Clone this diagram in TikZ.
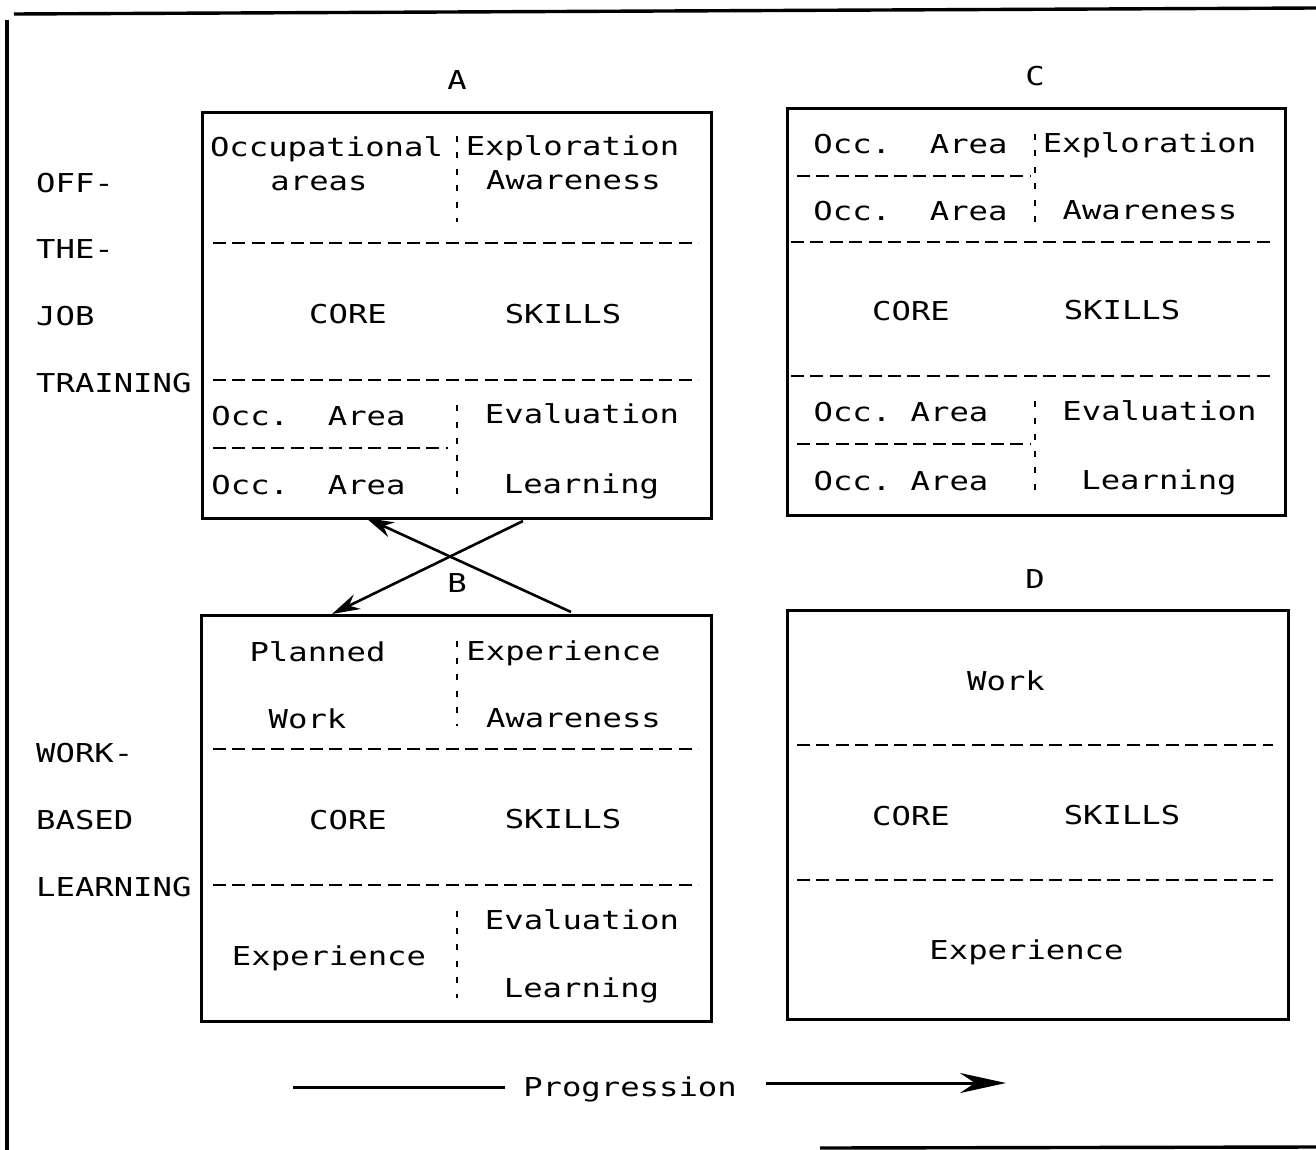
\documentclass[tikz,border=0pt]{standalone}
\usepackage{fontspec}
\usepackage{graphicx}
\newfontfamily\plotfont{DejaVu Sans Mono}
\usetikzlibrary{arrows.meta}
\newcommand{\T}[1]{\scalebox{1.24}[1]{#1}}
\tikzset{
  lbl/.style={font=\plotfont\fontsize{26}{30}\selectfont, inner sep=0pt, text height=19pt, text depth=0pt},
  box/.style={draw, line width=3.4pt, inner sep=0pt, anchor=north west},
  hdash/.style={line width=2.2pt, dash pattern=on 13pt off 6.4pt},
  vsep/.style={line width=2pt, dash pattern=on 6pt off 10.5pt},
  frame/.style={line width=3.4pt},
  arr/.style={line width=2.6pt, -{Stealth[length=28pt,width=16pt]}}
}
\begin{document}
\begin{tikzpicture}[x=1pt,y=-1pt]
\useasboundingbox (0,0) rectangle (1316,1150);
% outer frame
\coordinate (f1) at (14,14);
\coordinate (f2) at (1316,8);
\coordinate (f3) at (7,20);
\coordinate (f4) at (7,1150);
\coordinate (f5) at (820,1148);
\coordinate (f6) at (1316,1147);
\draw[frame] (f1) -- (f2);
\draw[frame] (f3) -- (f4);
\draw[frame] (f5) -- (f6);

% boxes
\node[box, minimum width=509pt, minimum height=406pt] (boxA) at (201,111) {};
\node[box, minimum width=498pt, minimum height=407pt] (boxC) at (786,107) {};
\node[box, minimum width=510pt, minimum height=406pt] (boxB) at (200,614) {};
\node[box, minimum width=501pt, minimum height=409pt] (boxD) at (786,609) {};

% headers
\node[lbl] (hA) at (457,80) {\T{A}};
\node[lbl] (hC) at (1035,76) {\T{C}};
\node[lbl] (hB) at (457,583) {\T{B}};
\node[lbl] (hD) at (1035,579) {\T{D}};

% left labels
\node[lbl, anchor=west] (l1) at (36,183) {\T{OFF-}};
\node[lbl, anchor=west] (l2) at (36,249) {\T{THE-}};
\node[lbl, anchor=west] (l3) at (36,316) {\T{JOB}};
\node[lbl, anchor=west] (l4) at (36,383) {\T{TRAINING}};
\node[lbl, anchor=west] (l5) at (36,753) {\T{WORK-}};
\node[lbl, anchor=west] (l6) at (36,820) {\T{BASED}};
\node[lbl, anchor=west] (l7) at (36,887) {\T{LEARNING}};

% ---------- Box A ----------
\node[lbl] (a1) at (326.5,147) {\T{Occupational}};
\node[lbl] (a2) at (319,181) {\T{areas}};
\node[lbl] (a3) at (572.5,146) {\T{Exploration}};
\node[lbl] (a4) at (573.5,180) {\T{Awareness}};
\node[lbl] (a5) at (348,314) {\T{CORE}};
\node[lbl] (a6) at (563,314) {\T{SKILLS}};
\node[lbl] (a7) at (308.5,416) {\T{Occ.\ \ Area}};
\node[lbl] (a8) at (308.5,485) {\T{Occ.\ \ Area}};
\node[lbl] (a9) at (582,414) {\T{Evaluation}};
\node[lbl] (a10) at (581.5,484) {\T{Learning}};
\draw[vsep] (457,136) -- (457,222);
\draw[vsep] (457,405) -- (457,494);
\draw[hdash] (213,243) -- (698,243);
\draw[hdash] (213,380) -- (698,380);
\draw[hdash] (213,448) -- (448,448);

% ---------- Box C ----------
\node[lbl] (c1) at (910.5,144) {\T{Occ.\ \ Area}};
\node[lbl] (c2) at (910.5,211) {\T{Occ.\ \ Area}};
\node[lbl] (c3) at (1149.5,143) {\T{Exploration}};
\node[lbl] (c4) at (1150,210) {\T{Awareness}};
\node[lbl] (c5) at (911,311) {\T{CORE}};
\node[lbl] (c6) at (1122,310) {\T{SKILLS}};
\node[lbl] (c7) at (901,412) {\T{Occ.\ Area}};
\node[lbl] (c8) at (901,481) {\T{Occ.\ Area}};
\node[lbl] (c9) at (1159.5,411) {\T{Evaluation}};
\node[lbl] (c10) at (1159,480) {\T{Learning}};
\draw[vsep] (1035,134) -- (1035,222);
\draw[vsep] (1035,401) -- (1035,490);
\draw[hdash] (797,176) -- (1031,176);
\draw[hdash] (791,242) -- (1273,242);
\draw[hdash] (791,376) -- (1273,376);
\draw[hdash] (797,444) -- (1031,444);

% ---------- Box B ----------
\node[lbl] (b1) at (317.5,652) {\T{Planned}};
\node[lbl] (b2) at (307.5,719) {\T{Work}};
\node[lbl] (b3) at (563.5,651) {\T{Experience}};
\node[lbl] (b4) at (573.5,718) {\T{Awareness}};
\node[lbl] (b5) at (348,820) {\T{CORE}};
\node[lbl] (b6) at (563,819) {\T{SKILLS}};
\node[lbl] (b7) at (329,956) {\T{Experience}};
\node[lbl] (b8) at (582,920) {\T{Evaluation}};
\node[lbl] (b9) at (581.5,988) {\T{Learning}};
\draw[vsep] (457,641) -- (457,726);
\draw[vsep] (457,911) -- (457,998);
\draw[hdash] (213,749) -- (698,749);
\draw[hdash] (213,885) -- (698,885);

% ---------- Box D ----------
\node[lbl] (d1) at (1006,681) {\T{Work}};
\node[lbl] (d2) at (911,816) {\T{CORE}};
\node[lbl] (d3) at (1122,815) {\T{SKILLS}};
\node[lbl] (d4) at (1026.5,950) {\T{Experience}};
\draw[hdash] (797,745) -- (1273,745);
\draw[hdash] (797,880) -- (1273,880);

% ---------- crossing arrows ----------
\coordinate (xB1) at (571,612);
\coordinate (xA1) at (366,518);
\coordinate (xA2) at (523,521);
\coordinate (xB2) at (332,614);
\draw[arr] (xB1) -- (xA1);
\draw[arr] (xA2) -- (xB2);

% ---------- progression ----------
\node[lbl] (prog) at (630,1087) {\T{Progression}};
\coordinate (p1) at (293,1087);
\coordinate (p2) at (505,1087);
\coordinate (p3) at (766,1083);
\coordinate (p4) at (1006,1083);
\draw[line width=3pt] (p1) -- (p2);
\draw[line width=3pt, -{Stealth[length=46pt,width=20pt]}] (p3) -- (p4);
\end{tikzpicture}
\end{document}
